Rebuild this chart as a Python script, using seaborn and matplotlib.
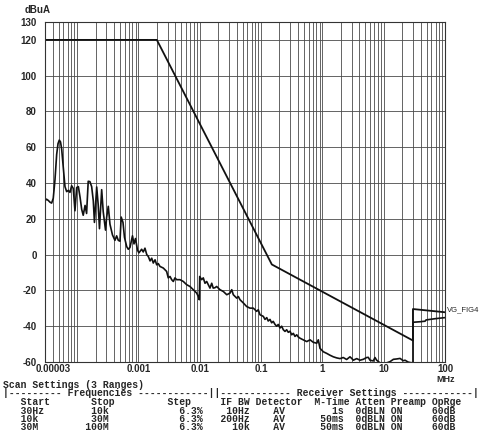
import numpy as np
import pandas as pd
import matplotlib
matplotlib.use("Agg")
import matplotlib.pyplot as plt
import matplotlib.transforms as mtransforms
import seaborn as sns

# ---------------- data ----------------
limit_freq = [3e-5, 0.002, 0.15, 30, 30, 100]
limit_level = [120, 120, -5.5, -48, -30.4, -32.2]

scan_freq = [
    3.00e-5, 3.17e-5, 3.39e-5, 3.62e-5, 3.85e-5, 4.09e-5, 4.36e-5, 4.65e-5, 4.89e-5, 5.13e-5,
    5.37e-5, 5.61e-5, 5.96e-5, 6.35e-5, 6.77e-5, 7.19e-5, 7.66e-5, 8.16e-5, 8.67e-5, 9.24e-5,
    9.86e-5, 1.05e-4, 1.12e-4, 1.19e-4, 1.26e-4, 1.35e-4, 1.43e-4, 1.52e-4, 1.62e-4, 1.73e-4,
    1.84e-4, 1.92e-4, 2.09e-4, 2.21e-4, 2.32e-4, 2.52e-4, 2.67e-4, 2.91e-4, 3.04e-4, 3.23e-4,
    3.44e-4, 3.78e-4, 4.15e-4, 4.42e-4, 4.70e-4, 5.01e-4, 5.24e-4, 5.61e-4, 5.93e-4, 6.44e-4,
    6.84e-4, 7.29e-4, 8.01e-4, 8.48e-4, 8.97e-4, 9.67e-4, 1.02e-3, 1.13e-3, 1.20e-3, 1.28e-3,
    1.37e-3, 1.45e-3, 1.55e-3, 1.65e-3, 1.75e-3, 1.87e-3, 1.99e-3, 2.11e-3, 2.25e-3, 2.55e-3,
    2.89e-3, 3.07e-3, 3.28e-3, 3.49e-3, 3.71e-3, 3.95e-3, 4.21e-3, 4.77e-3, 5.40e-3, 6.13e-3,
    6.94e-3, 7.86e-3, 8.93e-3, 9.48e-3, 9.85e-3,
    0.0100, 0.01077, 0.01143, 0.0122, 0.0130, 0.0138, 0.0147, 0.0157, 0.0166, 0.0177,
    0.0189, 0.0214, 0.0243, 0.0276, 0.0312, 0.0333, 0.0353, 0.0401, 0.0426, 0.0454,
    0.0514, 0.0583, 0.0661, 0.0748, 0.0849, 0.0902, 0.0961, 0.109, 0.116, 0.124,
    0.131, 0.140, 0.149, 0.158, 0.169, 0.180, 0.191, 0.204, 0.217, 0.231,
    0.246, 0.262, 0.278, 0.297, 0.316, 0.336, 0.358, 0.382, 0.405, 0.432,
    0.489, 0.556, 0.629, 0.712, 0.809, 0.859, 0.916, 1.04, 1.18, 1.33,
    1.51, 1.71, 1.94, 2.19, 2.49, 2.82, 3.01, 3.20, 3.63, 4.11,
    4.65, 5.28, 5.61, 5.98, 6.78, 7.21, 7.69, 8.71, 9.86, 11.2,
    12.7, 14.4, 16.3, 18.5, 20.9, 22.3, 24.9, 26.9, 30.0,
    30.0, 39.2, 47.3, 49.1, 68.8, 100.0,
]
scan_level = [
    30.0, 31.0, 30.3, 29.3, 28.8, 31.5, 41.7, 56.0, 62.0, 64.0,
    63.0, 59.0, 49.0, 38.0, 35.2, 35.9, 34.8, 38.5, 37.0, 24.5,
    37.5, 38.0, 32.0, 25.3, 22.0, 27.5, 23.0, 41.0, 40.8, 38.0,
    30.0, 18.0, 37.8, 28.0, 14.5, 36.3, 24.0, 13.7, 21.0, 27.0,
    17.0, 11.0, 8.0, 10.5, 8.0, 7.5, 21.0, 18.0, 9.7, 4.5,
    3.0, 4.0, 10.5, 6.0, 9.0, 2.5, 1.0, 3.0, 1.5, 3.6,
    0.0, -1.0, -3.5, -2.0, -4.7, -2.9, -5.7, -5.0, -6.6, -7.5,
    -9.4, -13.0, -12.2, -14.0, -15.0, -13.0, -14.0, -14.0, -15.0, -16.8,
    -17.8, -19.6, -21.5, -23.4, -25.2,
    -12.2, -14.0, -13.0, -16.0, -15.0, -16.8, -18.7, -16.0, -18.7, -18.5,
    -17.8, -19.6, -20.6, -22.4, -21.5, -19.6, -22.4, -24.3, -23.4, -25.2,
    -27.0, -29.0, -29.9, -29.9, -31.7, -30.8, -33.6, -34.5, -36.2, -35.2,
    -37.1, -36.2, -38.1, -37.3, -39.0, -40.0, -39.0, -41.0, -40.0, -42.0,
    -42.9, -42.0, -43.4, -42.8, -44.8, -44.0, -45.7, -44.8, -46.0, -46.7,
    -47.6, -48.6, -47.6, -49.0, -49.5, -47.6, -52.4, -54.3, -55.2, -56.2,
    -57.1, -57.7, -58.1, -57.5, -58.6, -57.1, -58.0, -59.0, -58.1, -59.0,
    -58.5, -57.5, -57.4, -59.0, -59.4, -57.5, -59.0, -60.5, -61.0, -60.5,
    -59.8, -58.5, -58.3, -58.0, -59.3, -59.0, -60.0, -60.3, -60.5,
    -37.8, -37.5, -37.2, -36.5, -35.8, -35.2,
]

xtick_values = [3e-5, 1e-3, 1e-2, 1e-1, 1, 10, 100]
xtick_labels = ["0.00003", "0.001", "0.01", "0.1", "1", "10", "100"]
ytick_values = [-60, -40, -20, 0, 20, 40, 60, 80, 100, 120, 130]
ytick_labels = ["-60", "-40", "-20", "0", "20", "40", "60", "80", "100", "120", "130"]
y_unit = "dBuA"
x_unit = "MHz"
limit_name = "VG_FIG4"

table_title = "Scan Settings (3 Ranges)"
table_rule = "|--------- Frequencies ------------||------------ Receiver Settings ------------|"
table_header = ["Start", "Stop", "Step", "IF BW", "Detector", "M-Time", "Atten", "Preamp", "OpRge"]
table_rows = [
    ["30Hz", "10k", "6.3%", "10Hz", "AV", "1s", "0dBLN", "ON", "60dB"],
    ["10k", "30M", "6.3%", "200Hz", "AV", "50ms", "0dBLN", "ON", "60dB"],
    ["30M", "100M", "6.3%", "10k", "AV", "50ms", "0dBLN", "ON", "60dB"],
]

# ---------------- figure ----------------
sns.set_style("white")
W, H, DPI = 481, 434, 100
fig = plt.figure(figsize=(W / DPI, H / DPI), dpi=DPI)
ax = fig.add_axes([45 / W, 1 - 362 / H, 400 / W, 340 / H])

scan_df = pd.DataFrame({"freq": scan_freq, "level": scan_level})
limit_df = pd.DataFrame({"freq": limit_freq, "level": limit_level})

sns.lineplot(data=scan_df, x="freq", y="level", sort=False, estimator=None,
             color="#111111", lw=1.2, ax=ax, legend=False)
sns.lineplot(data=limit_df, x="freq", y="level", sort=False, estimator=None,
             color="#111111", lw=1.3, ax=ax, legend=False)

ax.set_xscale("log")
ax.set_xlim(3e-5, 100)
ax.set_ylim(-60, 130)
ax.set_xlabel("")
ax.set_ylabel("")

minor = []
for e in range(-5, 3):
    for k in range(1, 10):
        v = k * 10.0 ** e
        if 3e-5 * 0.999 <= v <= 100 * 1.001:
            minor.append(v)
ax.set_xticks(minor, minor=True)
ax.set_xticks(xtick_values)
ax.set_yticks(ytick_values)

narrow = ["Liberation Sans Narrow", "Liberation Sans"]
tick_font = dict(family=narrow, weight="bold", size=7)
ax.set_xticklabels(xtick_labels, fontdict=tick_font)
ax.set_yticklabels(ytick_labels, fontdict=tick_font)
ax.xaxis.set_minor_formatter(matplotlib.ticker.NullFormatter())
ax.tick_params(axis="both", which="both", length=0)
ax.tick_params(axis="x", pad=1.5)
ax.tick_params(axis="y", pad=6)

# shift first x label right like the reference
lbl0 = ax.get_xticklabels()[0]
lbl0.set_transform(lbl0.get_transform() + mtransforms.ScaledTranslation(8 / DPI, 0, fig.dpi_scale_trans))

ax.grid(True, axis="x", which="both", color="#4a4a4a", lw=0.6)
ax.grid(True, axis="y", which="major", color="#4a4a4a", lw=0.6)
ax.set_axisbelow(True)
for s in ax.spines.values():
    s.set_color("#333333")
    s.set_linewidth(0.8)
    s.set_visible(True)

fig.text(38 / W, 1 - 10 / H, y_unit, ha="center", va="center",
         fontfamily=narrow, fontweight="bold", fontsize=7)
fig.text(446 / W, 1 - 379 / H, x_unit, ha="center", va="center",
         fontfamily=narrow, fontweight="bold", fontsize=6.5)
fig.text(447 / W, 1 - 310 / H, limit_name, ha="left", va="center",
         fontfamily=["Liberation Sans"], fontsize=5.5)

# ---------------- settings table (monospace) ----------------
def place(items, width=81):
    line = [" "] * width
    for col, text in items:
        for i, ch in enumerate(text):
            line[col + i] = ch
    return "".join(line).rstrip()

hdr_cols = [3, 15, 28, 37, 43, 53, 60, 66, 73]
header_line = place(list(zip(hdr_cols, table_header)))
row_lines = []
for r in table_rows:
    items = [(3, r[0]), (18 - len(r[1]), r[1]), (34 - len(r[2]), r[2]),
             (42 - len(r[3]), r[3]), (46, r[4]), (58 - len(r[5]), r[5]),
             (60, r[6]), (66, r[7]), (73, r[8])]
    row_lines.append(place(items))

lines = [table_title, table_rule, header_line] + row_lines
ys = [385, 393.5, 402, 410.5, 419, 427.5]
mono = dict(family=["Liberation Mono", "DejaVu Sans Mono"], size=7.0, weight="bold")
for txt, yy in zip(lines, ys):
    fig.text(3 / W, 1 - yy / H, txt, ha="left", va="center", fontdict=mono)

fig.savefig("out.png", dpi=DPI)
